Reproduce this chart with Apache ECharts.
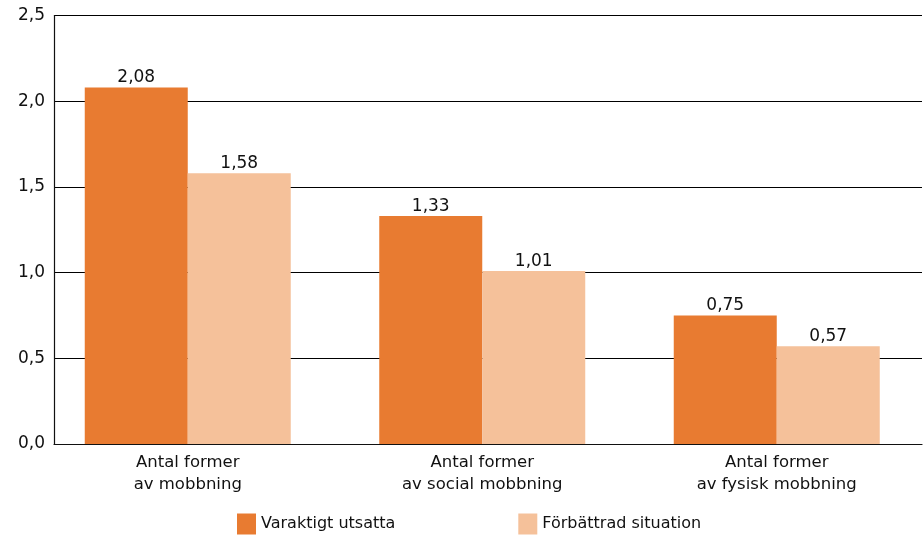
<!DOCTYPE html>
<html>
<head>
<meta charset="utf-8">
<script src="https://cdn.jsdelivr.net/npm/echarts@6/dist/echarts.min.js"></script>
<style>html,body{margin:0;padding:0;background:#fff}#c{width:924px;height:541px}</style>
</head>
<body>
<div id="c"></div>
<script>
var categories = ['Antal former\nav mobbning', 'Antal former\nav social mobbning', 'Antal former\nav fysisk mobbning'];
var seriesNames = ['Varaktigt utsatta', 'Förbättrad situation'];
var varaktigt = [2.08, 1.33, 0.75];
var forbattrad = [1.58, 1.01, 0.57];
var yTicks = [0, 0.5, 1.0, 1.5, 2.0, 2.5];
var colors = ['#E87B31', '#F5C19A'];
var FONT = 'DejaVu Sans';

function comma(v, d) { return Number(v).toFixed(d).replace('.', ','); }

var chart = echarts.init(document.getElementById('c'), null, {renderer: 'canvas'});
var option = {
  animation: false,
  textStyle: {fontFamily: FONT, color: '#111'},
  grid: [
    {left: 54, right: 2, top: 15.5, bottom: 97},
    {left: 40.5, right: -1.5, top: 15.5, bottom: 97}
  ],
  legend: {
    data: seriesNames,
    left: 237, top: 513.5, padding: 0,
    itemWidth: 19, itemHeight: 21, itemGap: 123,
    icon: 'rect',
    textStyle: {fontFamily: FONT, fontSize: 16, color: '#111', padding: [0, 0, 0, 0]}
  },
  xAxis: [
    {gridIndex: 0, type: 'value', min: 0, max: 1, show: true,
     axisLine: {show: true, onZero: false, lineStyle: {color: '#111', width: 1.2}},
     axisTick: {show: false}, axisLabel: {show: false}, splitLine: {show: false}},
    {gridIndex: 1, type: 'category', data: categories,
     axisLine: {show: false}, axisTick: {show: false},
     axisLabel: {fontFamily: FONT, fontSize: 16.5, color: '#111', lineHeight: 22, margin: 8, interval: 0}}
  ],
  yAxis: [
    {gridIndex: 0, type: 'value', min: 0, max: 2.5, interval: 0.5,
     axisLine: {show: true, lineStyle: {color: '#111', width: 1.2}},
     axisTick: {show: false},
     axisLabel: {fontFamily: FONT, fontSize: 17, color: '#111', margin: 9, padding: [5, 0, 0, 0],
       formatter: function (v) { return comma(v, 1); }},
     splitLine: {show: true, lineStyle: {color: '#000', width: 1.2}}},
    {gridIndex: 1, type: 'value', min: 0, max: 2.5, interval: 0.5, show: false,
     splitLine: {show: false}}
  ],
  series: [
    {name: seriesNames[0], type: 'bar', xAxisIndex: 1, yAxisIndex: 1, data: varaktigt,
     barWidth: 103, barGap: '0%', itemStyle: {color: colors[0]},
     label: {show: true, position: 'top', distance: 1, fontFamily: FONT, fontSize: 17, color: '#111',
       formatter: function (p) { return comma(p.value, 2); }}},
    {name: seriesNames[1], type: 'bar', xAxisIndex: 1, yAxisIndex: 1, data: forbattrad,
     barWidth: 103, barGap: '0%', itemStyle: {color: colors[1]},
     label: {show: true, position: 'top', distance: 1, fontFamily: FONT, fontSize: 17, color: '#111',
       formatter: function (p) { return comma(p.value, 2); }}}
  ]
};
chart.setOption(option);
</script>
</body>
</html>
